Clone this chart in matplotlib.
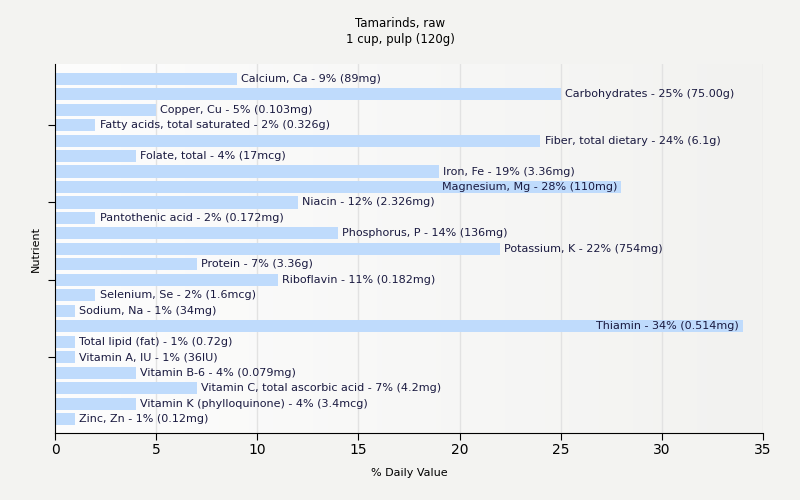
import numpy as np
import matplotlib
matplotlib.use("Agg")
import matplotlib.pyplot as plt

nutrients = ["Calcium, Ca", "Carbohydrates", "Copper, Cu", "Fatty acids, total saturated",
             "Fiber, total dietary", "Folate, total", "Iron, Fe", "Magnesium, Mg", "Niacin",
             "Pantothenic acid", "Phosphorus, P", "Potassium, K", "Protein", "Riboflavin",
             "Selenium, Se", "Sodium, Na", "Thiamin", "Total lipid (fat)", "Vitamin A, IU",
             "Vitamin B-6", "Vitamin C, total ascorbic acid", "Vitamin K (phylloquinone)", "Zinc, Zn"]
daily_value = [9, 25, 5, 2, 24, 4, 19, 28, 12, 2, 14, 22, 7, 11, 2, 1, 34, 1, 1, 4, 7, 4, 1]
amounts = ["89mg", "75.00g", "0.103mg", "0.326g", "6.1g", "17mcg", "3.36mg", "110mg", "2.326mg",
           "0.172mg", "136mg", "754mg", "3.36g", "0.182mg", "1.6mcg", "34mg", "0.514mg", "0.72g",
           "36IU", "0.079mg", "4.2mg", "3.4mcg", "0.12mg"]

fig = plt.figure(figsize=(8, 5), dpi=100, facecolor="#f3f3f1")
ax = fig.add_axes([0.06875, 0.134, 0.885, 0.738])

n = len(nutrients)
ypos = np.arange(n)[::-1]
xmax = 35

# gradient background
grad = np.linspace(0, 1, 256).reshape(1, -1)
cmap = matplotlib.colors.LinearSegmentedColormap.from_list("g", ["#fdfdfd", "#f2f2f0"])
ax.imshow(grad, extent=[0, xmax, -0.9, n - 0.05], aspect="auto", cmap=cmap, zorder=0)

for x in range(5, 36, 5):
    ax.axvline(x, color="#e2e2e2", lw=1, zorder=1)

ax.barh(ypos, daily_value, height=0.78, color="#bfdbfc", zorder=2)

renderer = fig.canvas.get_renderer()
for y, v, name, amt in zip(ypos, daily_value, nutrients, amounts):
    label = f"{name} - {v}% ({amt})"
    t = ax.text(v + 0.2, y, label, va="center", ha="left", fontsize=8, color="#1a1a40", zorder=3)
    bb = t.get_window_extent(renderer=renderer).transformed(ax.transData.inverted())
    if bb.x1 > xmax:
        t.set_position((v - 0.2, y))
        t.set_ha("right")

ax.set_xlim(0, xmax)
ax.set_ylim(-0.9, n - 0.05)
ax.set_xticks(range(0, 36, 5))
ax.set_yticks([4, 9, 14, 19])
ax.set_yticklabels([])
ax.tick_params(axis="both", length=5, labelsize=10)
ax.tick_params(axis="x", pad=2)
ax.spines["top"].set_visible(False)
ax.spines["right"].set_visible(False)
ax.set_xlabel("% Daily Value", fontsize=8, labelpad=8)
ax.set_ylabel("Nutrient", fontsize=8, labelpad=2)
fig.suptitle("Tamarinds, raw\n1 cup, pulp (120g)", y=0.965, fontsize=8.5)

fig.savefig("out.png", dpi=100, facecolor=fig.get_facecolor())
